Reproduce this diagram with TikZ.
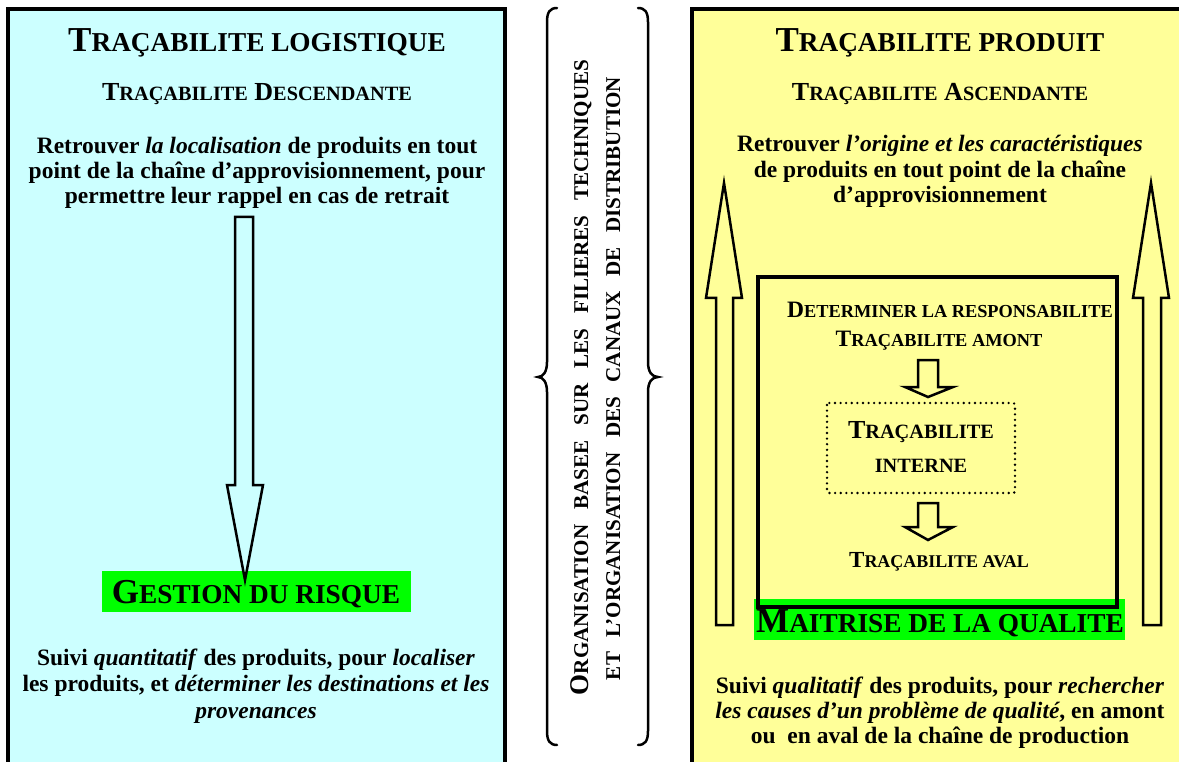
\documentclass[tikz,border=0pt]{standalone}
\usepackage{fontspec}
\setmainfont{Liberation Serif}
\usepackage{graphicx}
\definecolor{cyanbg}{HTML}{CCFFFF}
\definecolor{yelbg}{HTML}{FFFF99}
\definecolor{hlgreen}{HTML}{00FF00}
\newcommand\lc[1]{\scalebox{0.78}{#1}}
\newcommand\fs[1]{\fontsize{#1}{#1}\selectfont}
\newcommand\lines[3]{{\fontsize{#1}{#2}\selectfont\renewcommand\arraystretch{1}\begin{tabular}[t]{@{}c@{}}#3\end{tabular}}}
\begin{document}
\begin{tikzpicture}[x=1pt,y=-1pt,
  every node/.style={inner sep=0pt, font=\bfseries},
  box/.style={draw, line width=3.5pt},
  hollow/.style={draw, line width=2.5pt, line join=miter},
  brace/.style={draw, line width=2.5pt, line cap=round},
  dotbox/.style={draw, line width=2.6pt, line cap=round, dash pattern=on 0pt off 5.6pt, rounded corners=2pt},
  hl/.style={fill=hlgreen}]
\useasboundingbox (0,0) rectangle (1179,762);
\begin{scope}
\clip (0,0) rectangle (1179,762);
\path[box, fill=cyanbg] (8,9) rectangle (505,800);
\path[box, fill=yelbg] (692,9) rectangle (1200,800);
\end{scope}

% ---------- left panel ----------
\node (tl) [anchor=base] at (257,52) {\fs{35}T\lc{RAÇABILITE LOGISTIQUE}};
\node (dl) [anchor=base] at (257,101) {\fs{26}T\lc{RAÇABILITE} D\lc{ESCENDANTE}};
\node (bl) [anchor=base] at (257,154) {\lines{23.5}{25}{Retrouver \textit{la localisation} de produits en tout\\ point de la chaîne d’approvisionnement, pour\\ permettre leur rappel en cas de retrait}};
\fill[hl] (102,571) rectangle (411,612);
\path[hollow, fill=cyanbg] (235,217) -- (253,217) -- (253,485) -- (263,485) -- (245,580) -- (227,485) -- (235,485) -- cycle;
\node (gr) [anchor=base] at (256,603) {\fs{35}G\lc{ESTION DU RISQUE}};
\node (ql) [anchor=base] at (256,665) {\lines{23.5}{26.5}{Suivi \textit{quantitatif} des produits, pour \textit{localiser}\\ les produits, et \textit{déterminer les destinations et les}\\ \textit{provenances}}};

% ---------- middle ----------
\path[brace] (557,8) .. controls (550,8) and (547,12) .. (547,22) -- (547,362) .. controls (547,372) and (543,377) .. (538,377) .. controls (543,377) and (547,382) .. (547,392) -- (547,731) .. controls (547,741) and (550,745) .. (557,745);
\path[brace] (638,8) .. controls (645,8) and (648,12) .. (648,22) -- (648,362) .. controls (648,372) and (652,377) .. (658,377) .. controls (652,377) and (648,382) .. (648,392) -- (648,731) .. controls (648,741) and (645,745) .. (638,745);
\node (v1) [rotate=90, anchor=base] at (588,377.5) {\fs{27}\hbox to 635pt{O\lc{RGANISATION}\hfil\lc{BASEE}\hfil\lc{SUR}\hfil\lc{LES}\hfil\lc{FILIERES}\hfil\lc{TECHNIQUES}}};
\node (v2) [rotate=90, anchor=base] at (620,378.5) {\fs{27}\hbox to 603pt{\lc{ET}\hfil\lc{L’ORGANISATION}\hfil\lc{DES}\hfil\lc{CANAUX}\hfil\lc{DE}\hfil\lc{DISTRIBUTION}}};

% ---------- right panel ----------
\node (tr) [anchor=base] at (940,52) {\fs{35}T\lc{RAÇABILITE PRODUIT}};
\node (ar) [anchor=base] at (940,101) {\fs{26}T\lc{RAÇABILITE} A\lc{SCENDANTE}};
\node (br) [anchor=base] at (940,152) {\lines{23.5}{25.5}{Retrouver \textit{l’origine et les caractéristiques}\\ de produits en tout point de la chaîne\\ d’approvisionnement}};

\path[hollow, fill=yelbg] (716,625) -- (733,625) -- (733,298) -- (742,298) -- (724,183) -- (706,298) -- (716,298) -- cycle;
\path[hollow, fill=yelbg] (1143,625) -- (1161,625) -- (1161,298) -- (1169,298) -- (1151,183) -- (1133,298) -- (1143,298) -- cycle;

\fill[hl] (754,599) rectangle (1125,640);
\path[draw, line width=3.5pt] (758,277) rectangle (1117,607);

\node (resp) [anchor=base] at (950,318) {\fs{23.5}D\lc{ETERMINER LA RESPONSABILITE}};
\node (am) [anchor=base] at (939,347) {\fs{23.5}T\lc{RAÇABILITE AMONT}};
\path[hollow, fill=yelbg] (918,360) -- (938,360) -- (938,387) -- (953,387) -- (928,397) -- (905,387) -- (918,387) -- cycle;
\path[dotbox] (827,403) rectangle (1015,493);
\node (in1) [anchor=base] at (921,438) {\fs{26}T\lc{RAÇABILITE}};
\node (in2) [anchor=base] at (921,472) {\fs{26}\lc{INTERNE}};
\path[hollow, fill=yelbg] (918,503) -- (938,503) -- (938,527) -- (953,527) -- (928,540) -- (905,527) -- (918,527) -- cycle;
\node (av) [anchor=base] at (939,567) {\fs{23}T\lc{RAÇABILITE AVAL}};
\node (mq) [anchor=base] at (940,632) {\fs{35}M\lc{AITRISE DE LA QUALITE}};
\node (qr) [anchor=base] at (940,693) {\lines{23.5}{25}{Suivi \textit{qualitatif} des produits, pour \textit{rechercher}\\ \textit{les causes d’un problème de qualité}, en amont\\ ou~ en aval de la chaîne de production}};
\end{tikzpicture}
\end{document}
